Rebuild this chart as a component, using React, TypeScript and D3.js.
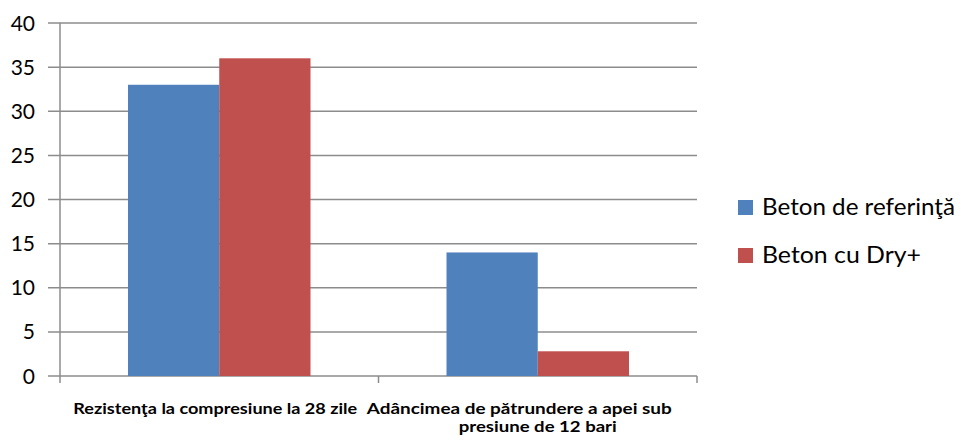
import React from "react";
import * as d3 from "d3";

const categories = ["cat1", "cat2"];
const categoryLines = [
  ["Rezistenţa la compresiune la 28 zile"],
  ["Adâncimea de pătrundere a apei sub", "presiune de 12 bari"],
];
const seriesNames = ["Beton de referinţă", "Beton cu Dry+"];
const seriesColors = ["#4F81BD", "#C0504D"];
const valuesRef = [33, 14];
const valuesDry = [36, 2.8];
const yTicks = [0, 5, 10, 15, 20, 25, 30, 35, 40];

const W = 962;
const H = 443;
const left = 60;
const right = 697;
const top = 23;
const bottom = 376;

export default function App() {
  const x = d3.scaleBand<string>().domain(categories).range([left, right]);
  const bw = x.bandwidth();
  const inner = d3
    .scaleBand<number>()
    .domain([0, 1])
    .range([bw * 0.2135, bw * (1 - 0.2135)]);
  const y = d3.scaleLinear().domain([0, 40]).range([bottom, top]);
  const series = [valuesRef, valuesDry];
  const grid = "#8c8c8c";
  const font = "Lato, 'Open Sans', sans-serif";

  // label placement tweaks (offsets from band centre, widths)
  const labelDx = [[-4], [-18.5, 0]];
  const labelW = [[284], [305, 158]];
  const labelBase = [414, 432];
  const legendW = [193, 159];

  return (
    <svg
      width={W}
      height={H}
      style={{ position: "absolute", left: 0, top: 0, background: "#fff" }}
    >
      {yTicks.map((t) => (
        <g key={t}>
          <line
            x1={48}
            x2={right}
            y1={y(t)}
            y2={y(t)}
            stroke={grid}
            strokeWidth={1.5}
          />
          <text
            x={35}
            y={y(t)}
            dy="0.36em"
            textAnchor="end"
            fontFamily={font}
            fontSize={21}
            fill="#000"
          >
            {t}
          </text>
        </g>
      ))}
      <line x1={left} x2={left} y1={top} y2={bottom} stroke={grid} strokeWidth={1.5} />
      {[left, ...categories.map((c) => (x(c) as number) + bw)].map((tx, i) => (
        <line
          key={i}
          x1={tx}
          x2={tx}
          y1={bottom}
          y2={bottom + 7}
          stroke={grid}
          strokeWidth={1.5}
        />
      ))}
      {series.map((vals, si) =>
        categories.map((c, ci) => (
          <rect
            key={`${si}-${ci}`}
            x={(x(c) as number) + (inner(si) as number)}
            width={inner.bandwidth()}
            y={y(vals[ci])}
            height={bottom - y(vals[ci])}
            fill={seriesColors[si]}
          />
        ))
      )}
      {categories.map((c, ci) =>
        categoryLines[ci].map((line, li) => (
          <text
            key={`${ci}-${li}`}
            x={(x(c) as number) + bw / 2 + labelDx[ci][li]}
            y={labelBase[li]}
            textAnchor="middle"
            fontFamily={font}
            fontWeight="bold"
            fontSize={15}
            textLength={labelW[ci][li]}
            lengthAdjust="spacingAndGlyphs"
            fill="#000"
          >
            {line}
          </text>
        ))
      )}
      {seriesNames.map((name, i) => (
        <g key={name}>
          <rect
            x={738}
            y={200 + i * 48}
            width={15}
            height={15}
            fill={seriesColors[i]}
          />
          <text
            x={762}
            y={215 + i * 48}
            fontFamily={font}
            fontSize={23}
            textLength={legendW[i]}
            lengthAdjust="spacingAndGlyphs"
            fill="#000"
          >
            {name}
          </text>
        </g>
      ))}
    </svg>
  );
}
